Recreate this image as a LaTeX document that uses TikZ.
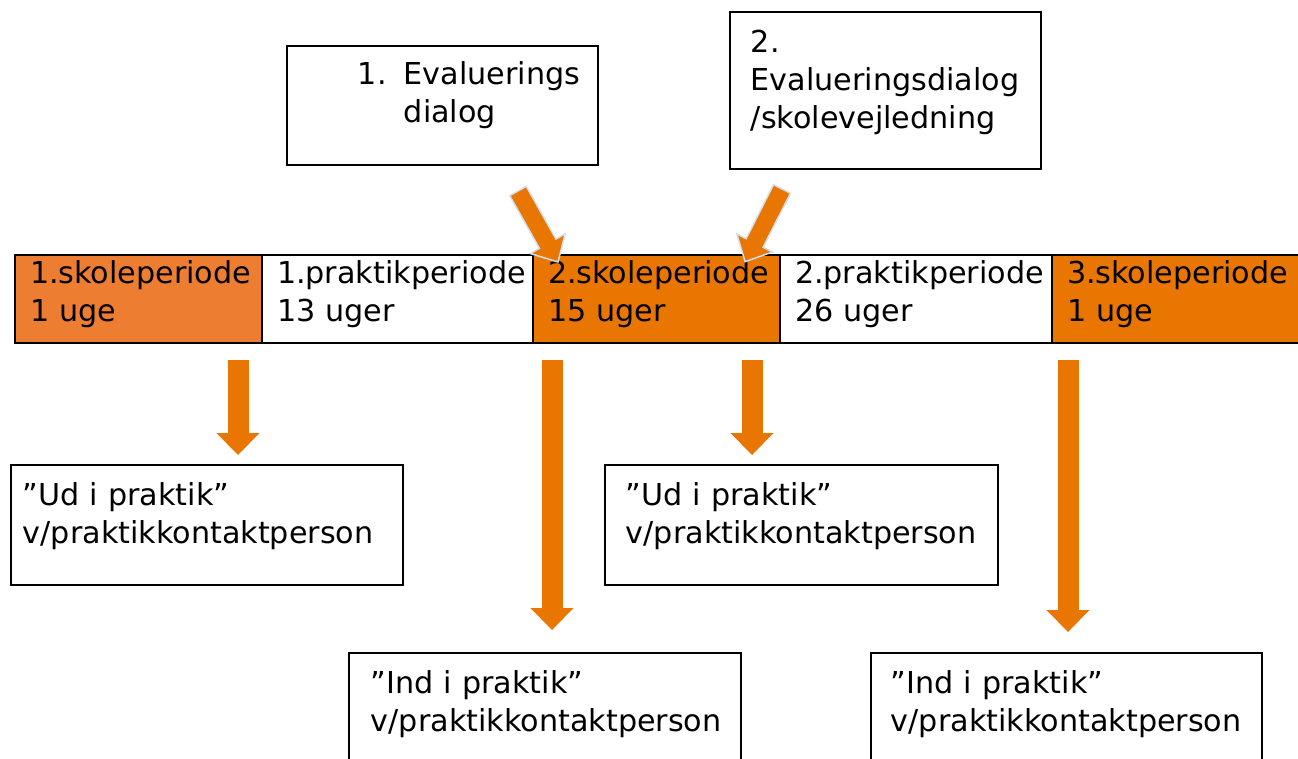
\documentclass[tikz,border=0pt]{standalone}
\usepackage{fontspec}
\setmainfont{DejaVu Sans}
\usetikzlibrary{arrows.meta,positioning}

\definecolor{skoleorange}{HTML}{ED7D31}
\definecolor{periodorange}{HTML}{E97600}
\definecolor{arrowrim}{HTML}{D3DFEE}

\tikzset{
  cell/.style={draw, line width=2.4pt, inner xsep=15pt, inner ysep=5.5pt, outer sep=0pt,
    align=left, text height=23pt, text depth=54pt},
  textbox/.style={draw, line width=1.8pt, anchor=north west, align=left,
    inner ysep=17.5pt, text height=23pt},
  downarrow/.style={periodorange, line width=21pt,
    -{Triangle[width=43pt 0 0, length=22pt 0 0, line width=0pt]}, shorten <=17pt},
  evalarrow/.style={fill=periodorange, draw=arrowrim, line width=1.5pt, line join=miter}
}

\begin{document}
\begin{tikzpicture}[x=1pt, y=1pt, font=\fontsize{30.2}{38}\selectfont]
  \useasboundingbox (0,0) rectangle (1298,-758);
  \clip (0,0) rectangle (1298,-758);

  % evaluering
  \node[textbox, inner xsep=71pt, inner ysep=15.5pt, text width=169pt, text depth=65pt]
    (evalA) at (286,-45) {\makebox[46pt][l]{1.}Evaluerings\\\hspace*{46pt}dialog};
  \node[textbox, inner xsep=21pt, text width=269pt, text depth=99pt]
    (evalB) at (729,-11) {2.\\Evalueringsdialog\\/skolevejledning};

  % forloeb
  \node[cell, fill=skoleorange, anchor=north west, text width=217pt] (c1) at (15,-255) {1.skoleperiode\\1 uge};
  \node[cell, fill=white, right=0pt of c1, text width=241pt] (c2) {1.praktikperiode\\13 uger};
  \node[cell, fill=periodorange, right=0pt of c2, text width=217pt] (c3) {2.skoleperiode\\15 uger};
  \node[cell, fill=white, right=0pt of c3, text width=242pt] (c4) {2.praktikperiode\\26 uger};
  \node[cell, fill=periodorange, right=0pt of c4, text width=230pt] (c5) {3.skoleperiode\\1 uge};

  \begin{scope}[shift={(518,-191)}, rotate=-60.6]
    \filldraw[evalarrow] (0,-9.5) -- (60.5,-9.5) -- (60.5,-20) -- (81.5,0)
      -- (60.5,20) -- (60.5,9.5) -- (0,9.5) -- cycle;
  \end{scope}
  \begin{scope}[shift={(782,-189)}, rotate=-116.9]
    \filldraw[evalarrow] (0,-9.5) -- (60.5,-9.5) -- (60.5,-20) -- (81.5,0)
      -- (60.5,20) -- (60.5,9.5) -- (0,9.5) -- cycle;
  \end{scope}

  % praktik
  \node[textbox, inner xsep=12pt, text width=368pt, text depth=62pt]
    (ud1) at (10,-464) {”Ud i praktik”\\v/praktikkontaktperson};
  \node[textbox, inner xsep=21pt, text width=351pt, text depth=62pt]
    (ud2) at (604,-464) {”Ud i praktik”\\v/praktikkontaktperson};
  \node[textbox, inner xsep=22pt, text width=348pt, text depth=72pt]
    (ind1) at (348,-652) {”Ind i praktik”\\v/praktikkontaktperson};
  \node[textbox, inner xsep=20pt, text width=351pt, text depth=72pt]
    (ind2) at (870,-652) {”Ind i praktik”\\v/praktikkontaktperson};

  \coordinate (a1) at ([xshift=223pt]c1.south west);
  \coordinate (a2) at ([xshift=19pt]c3.south west);
  \coordinate (a3) at ([xshift=219pt]c3.south west);
  \coordinate (a4) at ([xshift=16pt]c5.south west);

  \draw[downarrow, shorten >=9pt] (a1) -- (a1 |- ud1.north);
  \draw[downarrow, shorten >=22pt] (a2) -- (a2 |- ind1.north);
  \draw[downarrow, shorten >=9pt] (a3) -- (a3 |- ud2.north);
  \draw[downarrow, shorten >=20pt] (a4) -- (a4 |- ind2.north);
\end{tikzpicture}
\end{document}
